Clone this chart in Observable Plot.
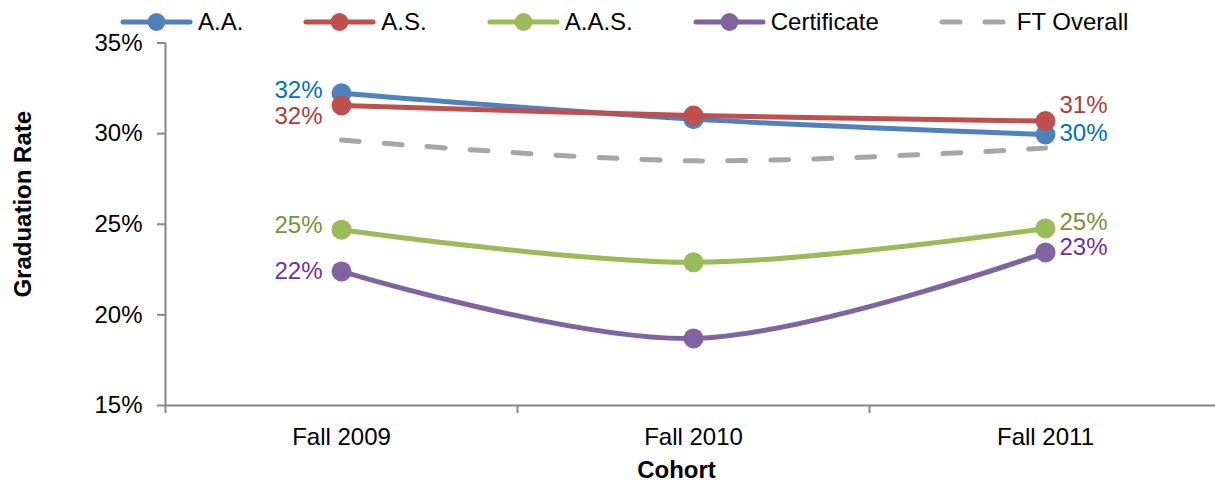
<!DOCTYPE html>
<html>
<head>
<meta charset="utf-8">
<script src="https://cdn.jsdelivr.net/npm/d3@7"></script>
<script src="https://cdn.jsdelivr.net/npm/@observablehq/plot@0.6"></script>
<style>
  html, body { margin: 0; padding: 0; background: #fff; }
  body { font-family: "Liberation Sans", Arial, sans-serif; width: 1215px; height: 484px; overflow: hidden; }
  #legend { height: 28px; overflow: visible; position: relative; z-index: 1; }
  #legend .row { position: absolute; top: 10px; left: 120px; display: flex; align-items: center; font-size: 24px; line-height: 24px; color: #000; white-space: nowrap; }
  #legend .item { display: flex; align-items: center; margin-right: 60px; }
  #legend svg { display: block; margin-right: 5px; }
  #chart svg { display: block; }
</style>
</head>
<body>
<div id="legend"><div class="row"></div></div>
<div id="chart"></div>
<script>
// Cohorts on the x axis
const cohorts = ["Fall 2009", "Fall 2010", "Fall 2011"];

// Graduation rate (%) per award type, one value per cohort
const seriesNames = ["A.A.", "A.S.", "A.A.S.", "Certificate", "FT Overall"];
const aa = [32.23, 30.8, 29.95];
const as = [31.55, 31.0, 30.69];
const aas = [24.7, 22.9, 24.77];
const certificate = [22.4, 18.7, 23.44];
const ftOverall = [29.65, 28.5, 29.2];

// Y axis ticks (%)
const yTicks = [15, 20, 25, 30, 35];

const seriesValues = [aa, as, aas, certificate, ftOverall];

// Styling per series
const lineColors = {"A.A.": "#4F81BD", "A.S.": "#C0504D", "A.A.S.": "#9BBB59", "Certificate": "#8064A2", "FT Overall": "#A6A6A6"};
const labelColors = {"A.A.": "#0070C0", "A.S.": "#A5403D", "A.A.S.": "#76923C", "Certificate": "#7030A0"};
// Vertical nudge of the first / last value label of each labelled series
const labelNudge = {"A.A.": [-3, -1], "A.S.": [11, -16], "A.A.S.": [-4, -6], "Certificate": [0, -5]};
const dashed = "18 25";
const axisGray = "#868686";

// Long-format table built from the arrays above
const rows = seriesNames.flatMap((s, k) =>
  seriesValues[k].map((v, i) => ({series: s, i, cohort: cohorts[i], value: v}))
);
const pos = d => d.i + 0.5;
const pct = d => Math.round(d.value) + "%";

// Legend
const legendRow = document.querySelector("#legend .row");
for (const s of seriesNames) {
  const item = document.createElement("div");
  item.className = "item";
  const c = lineColors[s];
  const isDash = s === "FT Overall";
  item.innerHTML =
    `<svg width="73" height="20"><line x1="3" x2="70" y1="10" y2="10" stroke="${c}" stroke-width="5" stroke-linecap="round"${isDash ? ` stroke-dasharray="${dashed}"` : ""}/>` +
    (isDash ? "" : `<circle cx="36.5" cy="10" r="9" fill="${c}"/>`) +
    `</svg><span>${s}</span>`;
  legendRow.appendChild(item);
}

// Draw order: FT Overall first, then the award series
const drawOrder = ["FT Overall", "A.A.", "A.S.", "A.A.S.", "Certificate"];
const seriesMarks = drawOrder.flatMap(s => {
  const data = rows.filter(d => d.series === s);
  const marks = [
    Plot.line(data, {
      x: pos, y: "value", curve: "catmull-rom",
      stroke: lineColors[s], strokeWidth: 5, strokeLinecap: "round",
      strokeDasharray: s === "FT Overall" ? dashed : null
    })
  ];
  if (s !== "FT Overall") {
    marks.push(Plot.dot(data, {x: pos, y: "value", r: 10, fill: lineColors[s], stroke: null}));
  }
  return marks;
});

const labelMarks = Object.keys(labelNudge).flatMap(s => {
  const data = rows.filter(d => d.series === s);
  const first = data.filter(d => d.i === 0);
  const last = data.filter(d => d.i === cohorts.length - 1);
  return [
    Plot.text(first, {x: pos, y: "value", text: pct, textAnchor: "end", dx: -19, dy: labelNudge[s][0], fill: labelColors[s], fontSize: 24}),
    Plot.text(last, {x: pos, y: "value", text: pct, textAnchor: "start", dx: 14, dy: labelNudge[s][1], fill: labelColors[s], fontSize: 24})
  ];
});

const chart = Plot.plot({
  width: 1215,
  height: 456,
  marginTop: 14.5,
  marginBottom: 79,
  marginLeft: 165,
  marginRight: 0,
  style: {fontFamily: "'Liberation Sans', Arial, sans-serif", fontSize: "24px", color: "#000", background: "transparent", overflow: "visible"},
  x: {domain: [0, cohorts.length], range: [165, 1221], axis: null},
  y: {domain: [15, 35], axis: null},
  marks: [
    // Y axis
    Plot.axisY({ticks: yTicks, tickSize: 8, tickPadding: 15, tickFormat: d => d + "%", stroke: axisGray, strokeWidth: 2, fill: "#000", fontSize: 24, label: null}),
    Plot.ruleX([0], {stroke: axisGray, strokeWidth: 2}),
    // X axis: boundary ticks and centred cohort labels
    Plot.axisX({ticks: d3.range(cohorts.length + 1), tickSize: 8, tickFormat: () => "", stroke: axisGray, strokeWidth: 2, label: null}),
    Plot.axisX({ticks: cohorts.map((c, i) => i + 0.5), tickSize: 0, tickPadding: 22, tickFormat: t => cohorts[Math.floor(t)], fill: "#000", fontSize: 24, label: null}),
    Plot.ruleY([15], {stroke: axisGray, strokeWidth: 2}),
    // Axis titles
    Plot.text(["Graduation Rate"], {text: d => d, frameAnchor: "left", textAnchor: "middle", lineAnchor: "middle", rotate: -90, dx: -142, dy: -20, fontWeight: "bold", fontSize: 24, fill: "#000"}),
    Plot.text(["Cohort"], {text: d => d, frameAnchor: "bottom", textAnchor: "middle", lineAnchor: "middle", dx: -14, dy: 65, fontWeight: "bold", fontSize: 24, fill: "#000"}),
    ...seriesMarks,
    ...labelMarks
  ]
});
document.getElementById("chart").appendChild(chart);
</script>
</body>
</html>
